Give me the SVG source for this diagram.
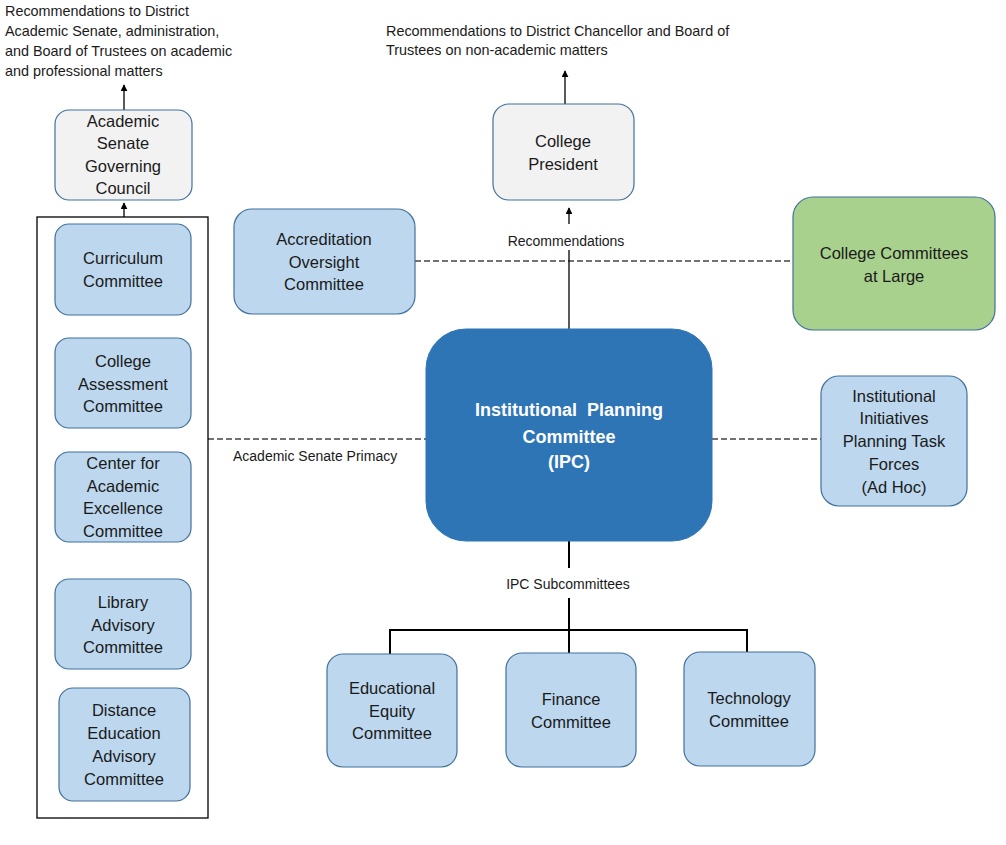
<svg xmlns="http://www.w3.org/2000/svg" width="1006" height="845" viewBox="0 0 1006 845">
<style>
text{font-family:"Liberation Sans",Arial,sans-serif;fill:#1a1a1a}
.n{font-size:16.5px;text-anchor:middle}
.s{font-size:14px}
.sc{font-size:14px;text-anchor:middle}
.t{font-size:14.4px}
.blue{fill:#bdd7ee;stroke:#41719c;stroke-width:1.2}
.gray{fill:#f2f2f2;stroke:#41719c;stroke-width:1.2}
.green{fill:#a9d18e;stroke:#41719c;stroke-width:1.2}
.ipc{fill:#2e75b6;stroke:#2e75b6}
.ipct{font-size:18px;font-weight:bold;text-anchor:middle;fill:#ffffff}
.ln{stroke:#000;stroke-width:2;fill:none}
.ar{stroke:#000;stroke-width:1.3;fill:none}
.dash{stroke:#767171;stroke-width:2;stroke-dasharray:6,3;fill:none}
</style>
<defs>
<marker id="ah" viewBox="0 0 10 10" refX="9" refY="5" markerWidth="7" markerHeight="7" markerUnits="userSpaceOnUse" orient="auto">
<path d="M0,0 L10,5 L0,10 z" fill="#000"/>
</marker>
</defs>
<rect width="1006" height="845" fill="#fff"/>

<g id="connectors">
<line class="ar" x1="124" y1="110" x2="124" y2="85" marker-end="url(#ah)"/>
<line class="ar" x1="124" y1="217" x2="124" y2="203" marker-end="url(#ah)"/>
<line class="ar" x1="565" y1="104" x2="565" y2="71" marker-end="url(#ah)"/>
<line class="ar" x1="569" y1="224" x2="569" y2="208" marker-end="url(#ah)"/>
<line class="dash" x1="415" y1="261" x2="793" y2="261"/>
<line class="ar" x1="569" y1="250" x2="569" y2="329"/>
<line class="dash" x1="208" y1="439" x2="426" y2="439"/>
<line class="dash" x1="712" y1="439" x2="821" y2="439"/>
<line class="ln" x1="569" y1="541" x2="569" y2="568"/>
<line class="ln" x1="569" y1="598" x2="569" y2="653"/>
<polyline class="ln" points="390,654 390,630 747,630 747,652"/>
<text class="sc" x="566" y="246">Recommendations</text>
<text class="s" x="233" y="461">Academic Senate Primacy</text>
<text class="sc" x="568" y="589">IPC Subcommittees</text>
</g>

<g id="note-academic">
<text class="t" x="5" y="16">Recommendations to District</text>
<text class="t" x="5" y="36">Academic Senate, administration,</text>
<text class="t" x="5" y="56">and Board of Trustees on academic</text>
<text class="t" x="5" y="76">and professional matters</text>
</g>

<g id="note-president">
<text class="t" x="386" y="36">Recommendations to District Chancellor and Board of</text>
<text class="t" x="386" y="55">Trustees on non-academic matters</text>
</g>

<g id="senate-group">
<rect x="37" y="217" width="171" height="601" fill="#fff" stroke="#000" stroke-width="1.3"/>
</g>

<g id="academic-senate">
<rect class="gray" x="55" y="110" width="137" height="90" rx="14"/>
<text class="n" x="123" y="127">Academic</text>
<text class="n" x="123" y="149">Senate</text>
<text class="n" x="123" y="172">Governing</text>
<text class="n" x="123" y="194">Council</text>
</g>

<g id="curriculum">
<rect class="blue" x="55" y="224" width="136" height="91" rx="14"/>
<text class="n" x="123" y="264">Curriculum</text>
<text class="n" x="123" y="287">Committee</text>
</g>

<g id="assessment">
<rect class="blue" x="55" y="338" width="136" height="90" rx="14"/>
<text class="n" x="123" y="367">College</text>
<text class="n" x="123" y="390">Assessment</text>
<text class="n" x="123" y="412">Committee</text>
</g>

<g id="cae">
<rect class="blue" x="55" y="452" width="136" height="90" rx="14"/>
<text class="n" x="123" y="469">Center for</text>
<text class="n" x="123" y="492">Academic</text>
<text class="n" x="123" y="514">Excellence</text>
<text class="n" x="123" y="537">Committee</text>
</g>

<g id="library">
<rect class="blue" x="55" y="579" width="136" height="90" rx="14"/>
<text class="n" x="123" y="608">Library</text>
<text class="n" x="123" y="631">Advisory</text>
<text class="n" x="123" y="653">Committee</text>
</g>

<g id="distance">
<rect class="blue" x="59" y="688" width="131" height="113" rx="14"/>
<text class="n" x="124" y="716">Distance</text>
<text class="n" x="124" y="739">Education</text>
<text class="n" x="124" y="762">Advisory</text>
<text class="n" x="124" y="785">Committee</text>
</g>

<g id="accreditation">
<rect class="blue" x="234" y="209" width="181" height="105" rx="18"/>
<text class="n" x="324" y="245">Accreditation</text>
<text class="n" x="324" y="268">Oversight</text>
<text class="n" x="324" y="290">Committee</text>
</g>

<g id="president">
<rect class="gray" x="493" y="104" width="141" height="96" rx="16"/>
<text class="n" x="563" y="147">College</text>
<text class="n" x="563" y="170">President</text>
</g>

<g id="committees-large">
<rect class="green" x="793" y="197" width="202" height="133" rx="20"/>
<text class="n" x="894" y="259">College Committees</text>
<text class="n" x="894" y="282">at Large</text>
</g>

<g id="ipc">
<rect class="ipc" x="426" y="329" width="286" height="212" rx="40"/>
<text class="ipct" x="569" y="416">Institutional&#160; Planning</text>
<text class="ipct" x="569" y="443">Committee</text>
<text class="ipct" x="569" y="468">(IPC)</text>
</g>

<g id="initiatives">
<rect class="blue" x="821" y="376" width="146" height="130" rx="18"/>
<text class="n" x="894" y="402">Institutional</text>
<text class="n" x="894" y="424">Initiatives</text>
<text class="n" x="894" y="447">Planning Task</text>
<text class="n" x="894" y="470">Forces</text>
<text class="n" x="894" y="493">(Ad Hoc)</text>
</g>

<g id="equity">
<rect class="blue" x="327" y="654" width="130" height="113" rx="16"/>
<text class="n" x="392" y="694">Educational</text>
<text class="n" x="392" y="717">Equity</text>
<text class="n" x="392" y="739">Committee</text>
</g>

<g id="finance">
<rect class="blue" x="506" y="653" width="130" height="114" rx="16"/>
<text class="n" x="571" y="705">Finance</text>
<text class="n" x="571" y="728">Committee</text>
</g>

<g id="technology">
<rect class="blue" x="684" y="652" width="131" height="114" rx="16"/>
<text class="n" x="749" y="704">Technology</text>
<text class="n" x="749" y="727">Committee</text>
</g>
</svg>
